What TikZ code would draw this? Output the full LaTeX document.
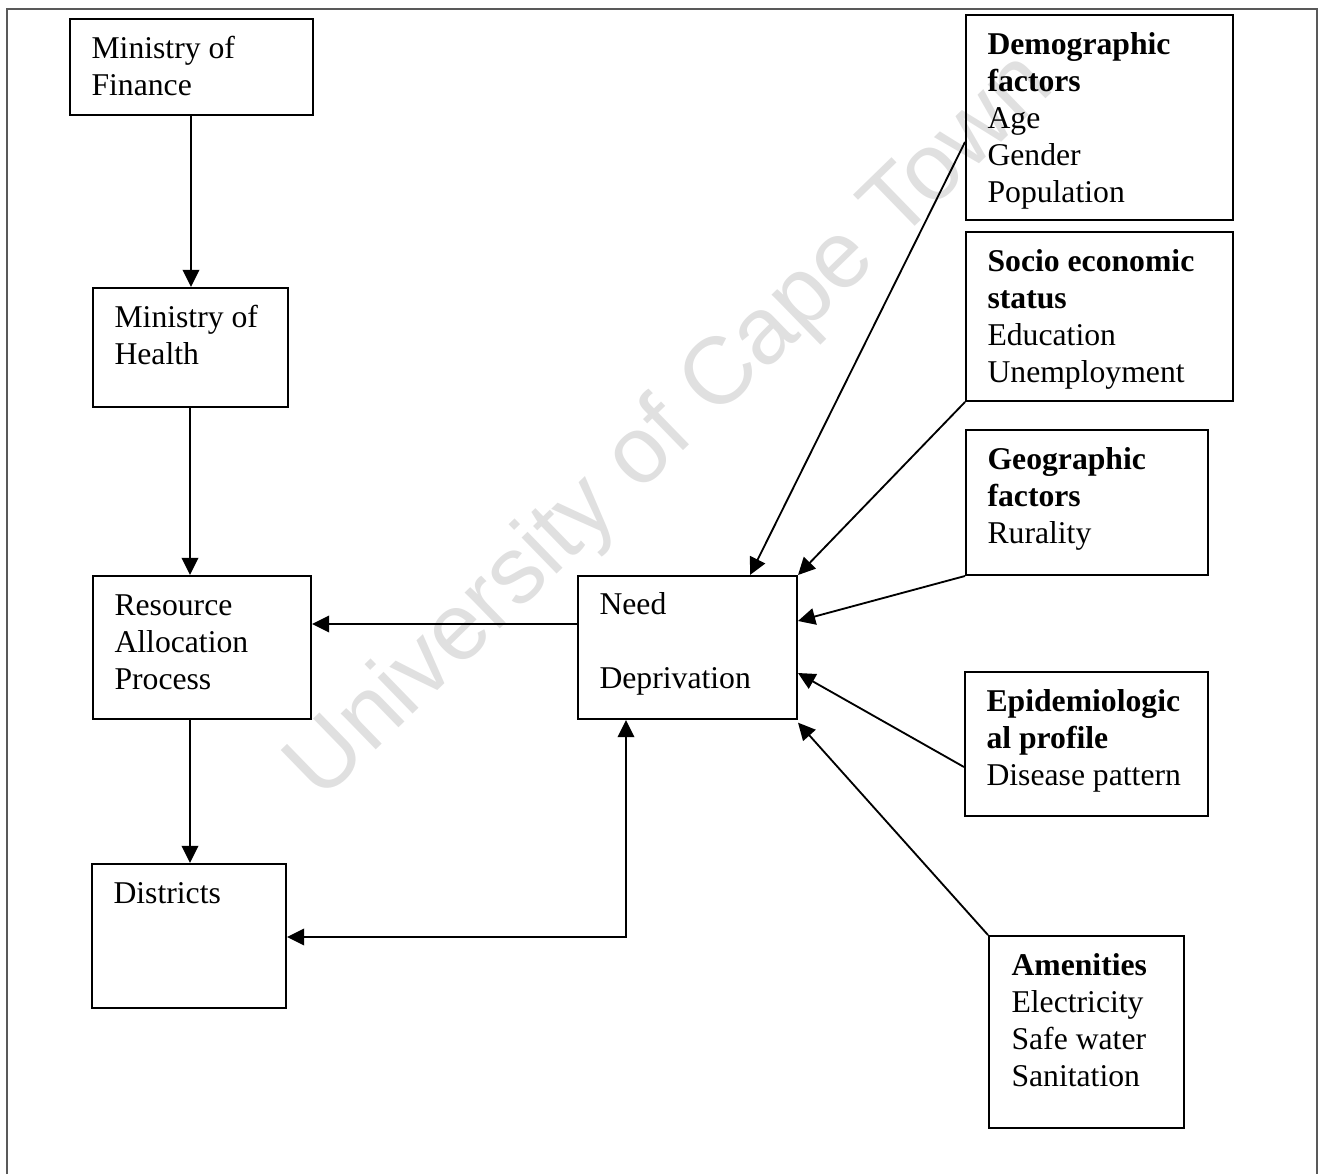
\documentclass[tikz,border=0pt]{standalone}
\usepackage{fontspec}
\setmainfont{Liberation Serif}
\newfontfamily\wmfont{Liberation Sans}
\usetikzlibrary{arrows.meta,fit}
\begin{document}
\begin{tikzpicture}[x=0.3788pt,y=-0.3788pt,
  box/.style={draw=black,line width=0.75pt,inner sep=0pt,rectangle},
  txt/.style={inner sep=0pt,align=left,anchor=north west,font=\fontsize{12}{14}\selectfont},
  arr/.style={line width=0.7pt,-{Triangle[length=6.5pt,width=6.3pt]}},
  darr/.style={line width=0.7pt,{Triangle[length=6.5pt,width=6.3pt]}-{Triangle[length=6.5pt,width=6.3pt]}},
  frame/.style={draw=black!65,line width=0.5pt}]
\useasboundingbox (0,0) rectangle (1319,1174);
% watermark
\node[text=black!12,rotate=44.2,inner sep=0pt,font=\wmfont\fontsize{36}{40}\selectfont] (wm) at (672,428) {University of Cape Town};
% outer frame
\coordinate (fbl) at (7,1174);
\coordinate (ftl) at (7,9);
\coordinate (ftr) at (1317,9);
\coordinate (fbr) at (1317,1174);
\draw[frame] (fbl) -- (ftl) -- (ftr) -- (fbr);
% boxes
\node[box,fit={(70,19) (313,115)}] (mof) {};
\node[box,fit={(93,288) (288,407)}] (moh) {};
\node[box,fit={(93,576) (311,719)}] (rap) {};
\node[box,fit={(92,864) (286,1008)}] (dist) {};
\node[box,fit={(578,576) (797,719)}] (need) {};
\node[box,fit={(966,15) (1233,220)}] (demo) {};
\node[box,fit={(966,232) (1233,401)}] (socio) {};
\node[box,fit={(966,430) (1208,575)}] (geo) {};
\node[box,fit={(965,672) (1208,816)}] (epi) {};
\node[box,fit={(989,936) (1184,1128)}] (amen) {};
% texts
\node[txt] (mof-t) at ([shift={(22,14)}]mof.north west) {\strut Ministry of\\Finance};
\node[txt] (moh-t) at ([shift={(22,14)}]moh.north west) {\strut Ministry of\\Health};
\node[txt] (rap-t) at ([shift={(22,14)}]rap.north west) {\strut Resource\\Allocation\\Process};
\node[txt] (dist-t) at ([shift={(22,14)}]dist.north west) {\strut Districts};
\node[txt] (need-t) at ([shift={(22,13)}]need.north west) {\strut Need\\\mbox{}\\Deprivation};
\node[txt] (demo-t) at ([shift={(22,14)}]demo.north west) {\strut\textbf{Demographic}\\\textbf{factors}\\Age\\Gender\\Population};
\node[txt] (socio-t) at ([shift={(22,14)}]socio.north west) {\strut\textbf{Socio economic}\\\textbf{status}\\Education\\Unemployment};
\node[txt] (geo-t) at ([shift={(22,14)}]geo.north west) {\strut\textbf{Geographic}\\\textbf{factors}\\Rurality};
\node[txt] (epi-t) at ([shift={(22,14)}]epi.north west) {\strut\textbf{Epidemiologic}\\\textbf{al profile}\\Disease pattern};
\node[txt] (amen-t) at ([shift={(23,14)}]amen.north west) {\strut\textbf{Amenities}\\Electricity\\Safe water\\Sanitation};
% vertical chain
\draw[arr] (mof.south -| 191,0) -- (moh.north -| 191,0);
\draw[arr] (moh.south -| 190,0) -- (rap.north -| 190,0);
\draw[arr] (rap.south -| 190,0) -- (dist.north -| 190,0);
% need -> resource allocation
\draw[arr] (need.west |- 0,624) -- (rap.east |- 0,624);
% districts <-> need
\coordinate (corner) at (626,937);
\draw[darr] (dist.east |- corner) -- (corner) -- (corner |- need.south);
% factor arrows
\draw[arr] (demo.west |- 0,142) -- (need.north -| 750,0);
\draw[arr] (socio.south west) -- (need.north east);
\draw[arr] (geo.south west) -- (need.east |- 0,621);
\draw[arr] (epi.west |- 0,767) -- (need.east |- 0,673);
\draw[arr] (amen.north west) -- ([yshift=-1pt]need.south east);
\end{tikzpicture}
\end{document}
